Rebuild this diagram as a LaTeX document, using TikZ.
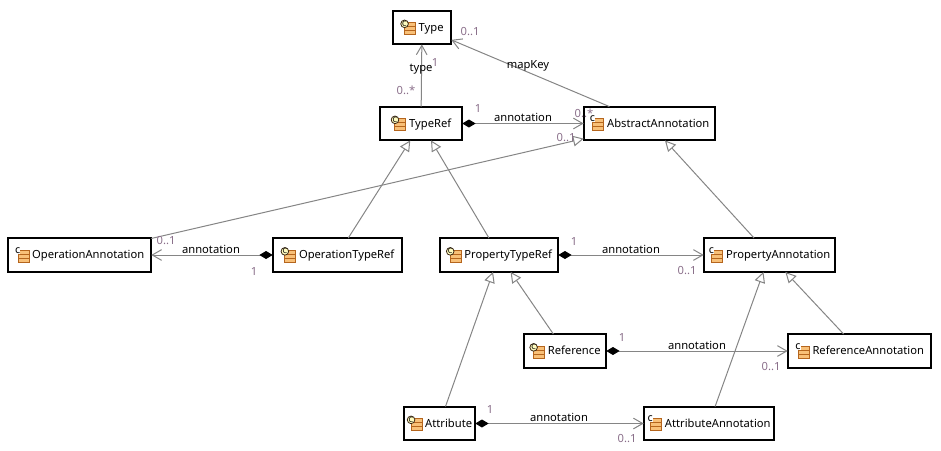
\documentclass[tikz,border=0pt]{standalone}
\usepackage{fontspec}
\setmainfont{Noto Sans}
\usetikzlibrary{arrows.meta}

\definecolor{edgegray}{HTML}{858585}
\definecolor{multcolor}{HTML}{8A6F8A}
\definecolor{iconline}{HTML}{B5651D}
\definecolor{iconfill}{HTML}{F8C078}

\tikzset{iconmark/.style = {minimum width = 0pt, minimum height = 0pt, inner sep = 0.2pt}}

% class icon: three stripes, with a small marker at the top left
\newcommand{\stripes}{%
	\draw [iconline, fill = iconfill, line width = 0.75pt] (0,0) rectangle (11,12);
	\draw [iconline, line width = 0.75pt] (0,4) -- (11,4);
	\draw [iconline, line width = 0.75pt] (0,8) -- (11,8);
}
\newcommand{\concreteicon}{\tikz[baseline = 2.6pt, x = 0.75pt, y = 0.75pt]{
	\stripes
	\draw [black!70!brown, fill = yellow!25, line width = 0.6pt] (0,11) circle (3.8);
	\node [iconmark, font = \fontsize{5.5}{5.5}\selectfont\bfseries] at (0,11) {C};
}\hspace{2pt}}
\newcommand{\abstracticon}{\tikz[baseline = 2.6pt, x = 0.75pt, y = 0.75pt]{
	\stripes
	\node [iconmark, fill = white, font = \fontsize{8}{8}\selectfont\bfseries] at (-0.5,11.5) {c};
}\hspace{2pt}}

\begin{document}
\begin{tikzpicture}[x = 0.75pt, y = -0.75pt, line width = 1.5pt,
								cls/.style = {rectangle, draw, fill = white, inner sep = 0pt,
								minimum height = 25pt, font = \fontsize{8.4}{10}\selectfont},
								assoc/.style = {edgegray, line width = 0.75pt,
								-{Straight Barb[length = 7pt, width = 8pt, line width = 0.75pt]}},
								comp/.style = {edgegray, line width = 0.75pt,
								{Diamond[black, length = 10pt, width = 6pt]}-{Straight Barb[length = 7pt, width = 8pt, line width = 0.75pt]}},
								inherit/.style = {edgegray, line width = 0.75pt,
								-{Triangle[open, fill = white, length = 8pt, width = 8pt, line width = 0.75pt]}},
								mult/.style = {multcolor, inner sep = 0pt, font = \fontsize{8.4}{10}\selectfont},
								role/.style = {black, inner sep = 0pt, font = \fontsize{8.4}{10}\selectfont}]

				\useasboundingbox (0,0) rectangle (941,450);

				\node [cls, minimum width = 43.5pt] (type) at (422,27.5) {\concreteicon Type};
				\node [cls, minimum width = 61.5pt] (typeref) at (421,123.5) {\concreteicon TypeRef};
				\node [cls, minimum width = 98.25pt] (abstract) at (649.5,123.5) {\abstracticon AbstractAnnotation};
				\node [cls, minimum width = 107.25pt] (opann) at (79.5,255) {\abstracticon OperationAnnotation};
				\node [cls, minimum width = 96.75pt] (optype) at (337.5,255) {\concreteicon OperationTypeRef};
				\node [cls, minimum width = 88.5pt] (proptype) at (499,255) {\concreteicon PropertyTypeRef};
				\node [cls, minimum width = 98.25pt] (propann) at (769.5,255) {\abstracticon PropertyAnnotation};
				\node [cls, minimum width = 61.5pt] (reference) at (565,351) {\concreteicon Reference};
				\node [cls, minimum width = 107.25pt] (refann) at (859.5,351) {\abstracticon ReferenceAnnotation};
				\node [cls, minimum width = 53.25pt] (attribute) at (439.5,423.5) {\concreteicon Attribute};
				\node [cls, minimum width = 97.5pt] (attrann) at (709,423.5) {\abstracticon AttributeAnnotation};

				\draw [assoc] (typeref) -- (type);
				\draw [assoc] (abstract) -- (type);
				\draw [comp] (typeref) -- (abstract);
				\draw [comp] (optype) -- (opann);
				\draw [comp] (proptype) -- (propann);
				\draw [comp] (reference) -- (refann);
				\draw [comp] (attribute) -- (attrann);

				\draw [inherit] (opann) -- (abstract);
				\draw [inherit] (optype) -- (typeref);
				\draw [inherit] (proptype) -- (typeref);
				\draw [inherit] (propann) -- (abstract);
				\draw [inherit] (attribute) -- (proptype);
				\draw [inherit] (reference) -- (proptype);
				\draw [inherit] (refann) -- (propann);
				\draw [inherit] (attrann) -- (propann);

				\node [role] (l_type) at (421,69) {type};
				\node [role] (l_mapkey) at (528,66) {mapKey};
				\node [role] (l_ann1) at (523,117) {annotation};
				\node [role] (l_ann2) at (211,249) {annotation};
				\node [role] (l_ann3) at (631,249) {annotation};
				\node [role] (l_ann4) at (697,345) {annotation};
				\node [role] (l_ann5) at (559,417) {annotation};

				\node [mult] (m_1) at (435,62) {1};
				\node [mult] (m_2) at (406,90) {0..*};
				\node [mult] (m_3) at (470,32) {0..1};
				\node [mult] (m_4) at (478,108) {1};
				\node [mult] (m_5) at (584,113) {0..*};
				\node [mult] (m_6) at (566,138) {0..1};
				\node [mult] (m_7) at (166,241) {0..1};
				\node [mult] (m_8) at (254,271) {1};
				\node [mult] (m_9) at (574,241) {1};
				\node [mult] (m_10) at (687,271) {0..1};
				\node [mult] (m_11) at (622,337) {1};
				\node [mult] (m_12) at (771,367) {0..1};
				\node [mult] (m_13) at (490,409) {1};
				\node [mult] (m_14) at (627,439) {0..1};
			\end{tikzpicture}
\end{document}
